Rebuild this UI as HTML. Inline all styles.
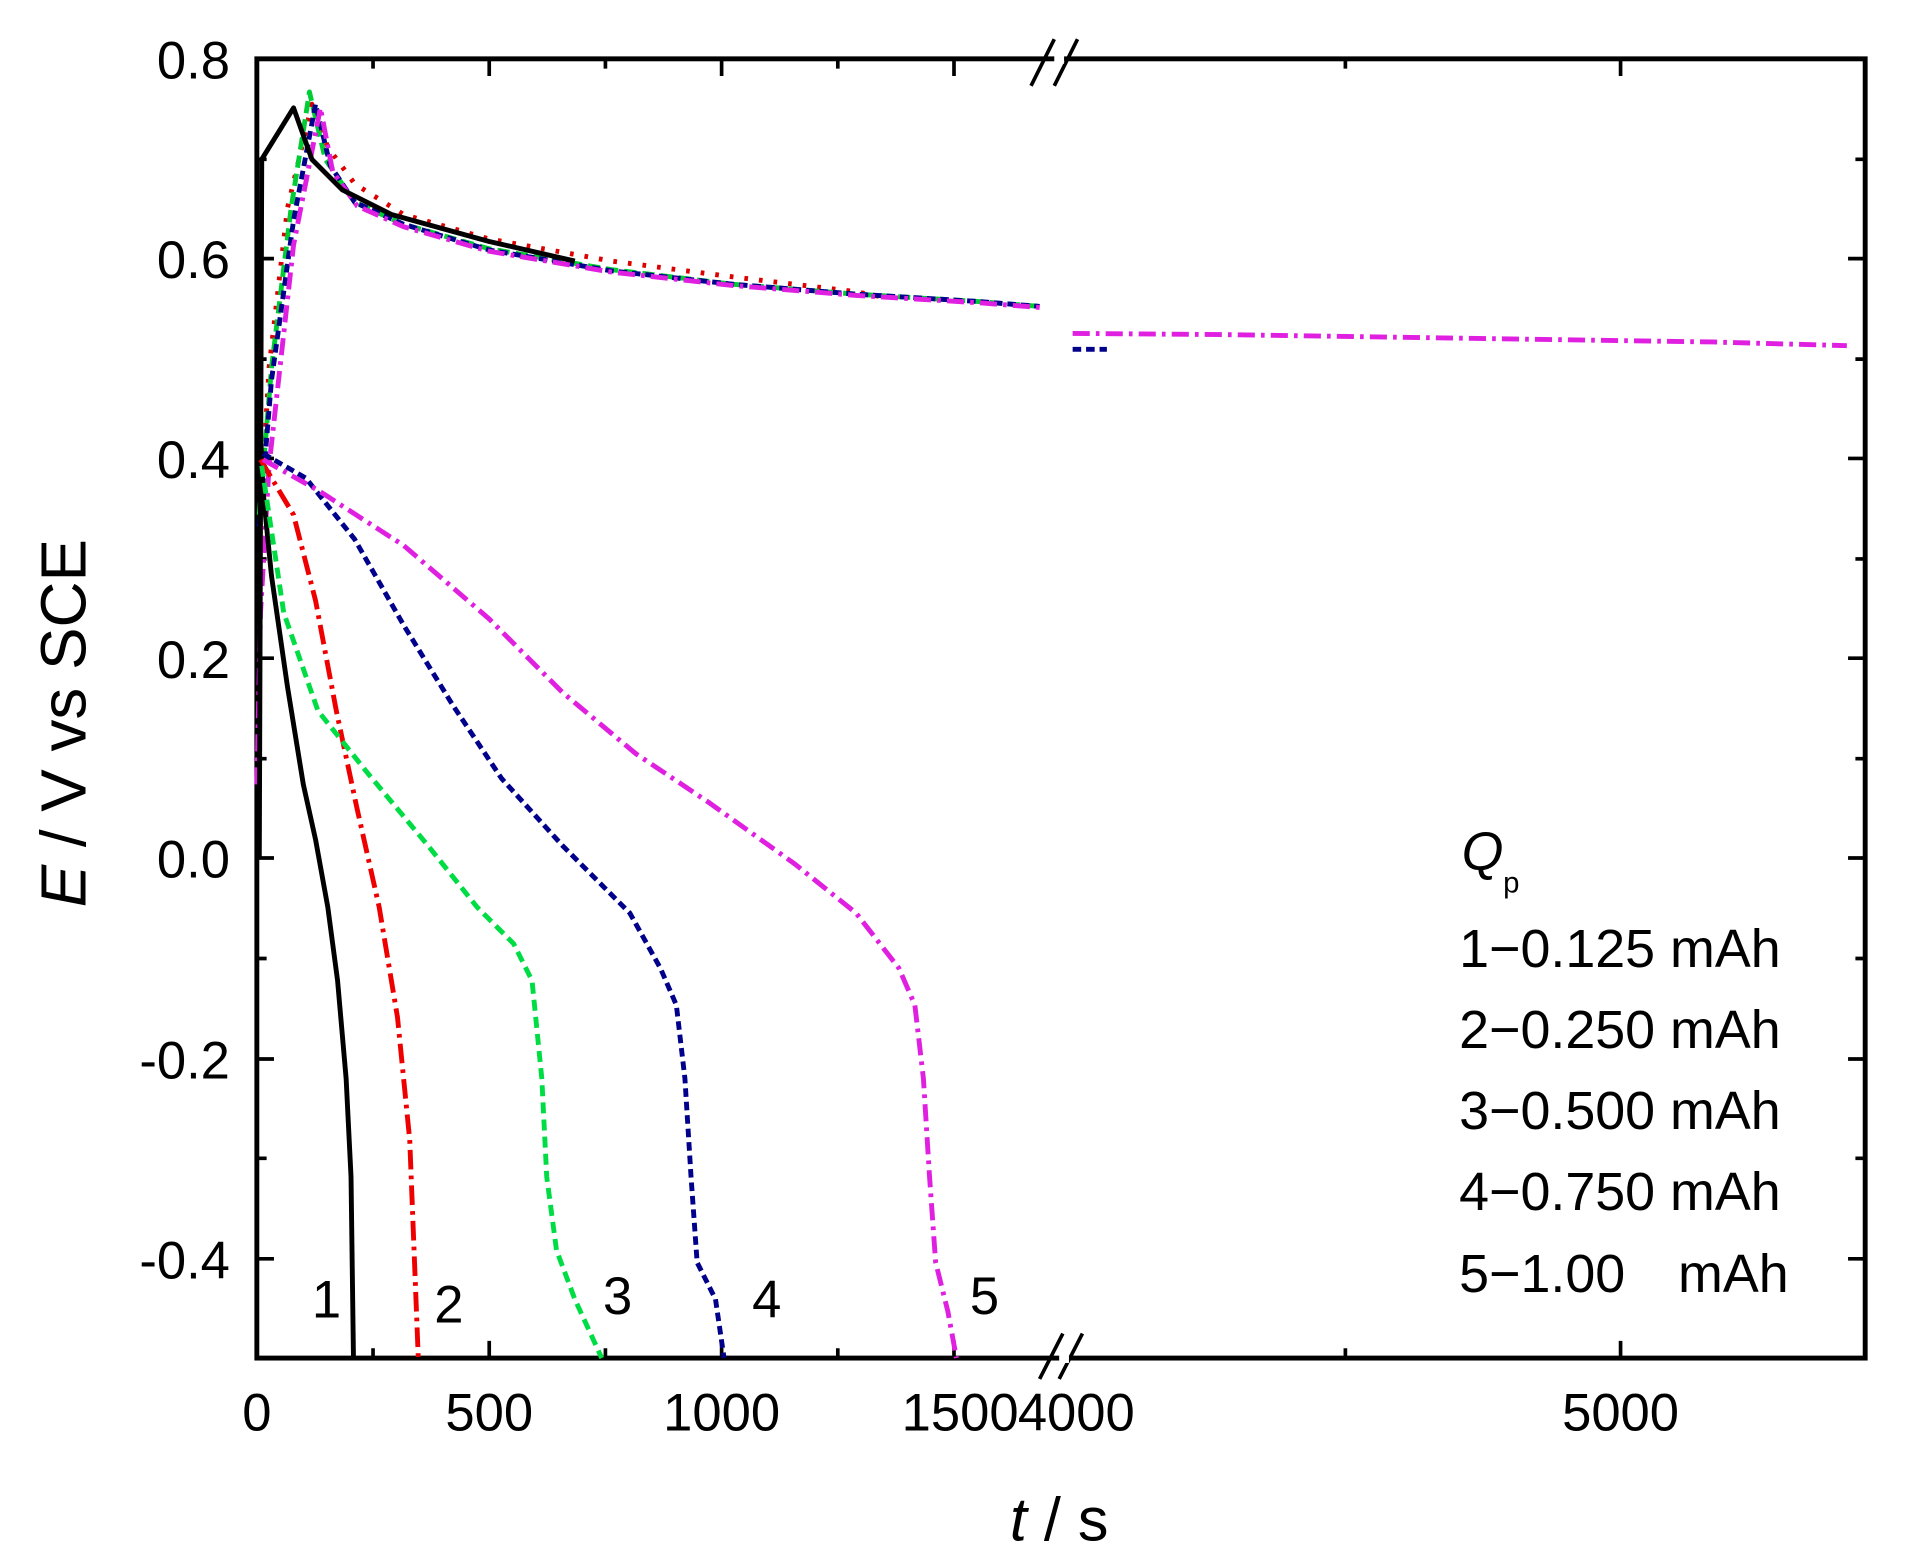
<!DOCTYPE html>
<html><head><meta charset="utf-8"><style>
html,body{margin:0;padding:0;background:#fff;}
svg{display:block;}
text{font-family:"Liberation Sans",Arial,sans-serif;fill:#000;}
</style></head><body>
<svg width="1919" height="1564" viewBox="0 0 1569 1276" preserveAspectRatio="none" xmlns="http://www.w3.org/2000/svg">
<rect x="0" y="0" width="1569" height="1276" fill="#fff"/>
<g stroke="#000" stroke-width="3">
<path d="M210 48h14M210 211h14M210 374h14M210 537h14M210 700h14M210 864h14M210 1027h14"/>
<path d="M1525 48h-14M1525 211h-14M1525 374h-14M1525 537h-14M1525 700h-14M1525 864h-14M1525 1027h-14"/>
<path d="M210 130h8M210 293h8M210 456h8M210 619h8M210 782h8M210 945h8"/>
<path d="M1525 130h-8M1525 293h-8M1525 456h-8M1525 619h-8M1525 782h-8M1525 945h-8"/>
<path d="M400 1108v-14M590 1108v-14M780 1108v-14M1325 1108v-14M305 1108v-8M495 1108v-8M685 1108v-8M1100 1108v-8"/>
<path d="M400 48v14M590 48v14M780 48v14M1325 48v14M305 48v8M495 48v8M685 48v8M1100 48v8"/>
</g>
<rect x="210" y="48" width="1315" height="1060" fill="none" stroke="#000" stroke-width="4"/>
<g stroke="#000" stroke-width="3">
<path d="M843 70L862 32M862 70L881 32"/>
<path d="M850 1125L869 1088M866 1125L885 1088"/>
</g>
<rect x="862" y="44" width="8" height="8" fill="#fff"/>
<rect x="866" y="1104" width="8" height="8" fill="#fff"/>
<g fill="none" stroke-width="4" stroke-linejoin="round">
<path stroke="#d00" stroke-dasharray="3 9" d="M213 420L220 300L235 170L255 85L268 120L290 150L330 175L400 195L500 213L600 226L700 238L720 242"/>
<path stroke="#00cc33" stroke-dasharray="10 5" d="M212 420L222 300L238 170L253 75L266 130L290 165L330 183L400 203L500 220L600 232L700 240L800 246L850 250"/>
<path stroke="#00008b" stroke-dasharray="7 4" d="M212 430L222 310L240 180L258 85L270 135L290 165L330 183L400 204L500 221L600 232L700 240L800 246L850 250"/>
<path stroke="#00008b" stroke-dasharray="7 4" d="M877 285L905 285"/>
<path stroke="#e020e0" stroke-dasharray="14 5 3 5" d="M210 640L213 500L220 380L240 200L262 88L272 140L292 168L330 185L400 205L500 222L600 233L700 241L800 247L852 251"/>
<path stroke="#e020e0" stroke-dasharray="14 5 3 5" d="M877 272L1000 273L1200 276L1400 279L1510 282"/>
<path stroke="#000" d="M212 700L214 130L240 88L255 130L280 155L320 175L400 197L470 213"/>
<path stroke="#000" d="M212 330L215 400L222 470L235 560L248 640L258 685L268 740L276 800L283 880L287 960L289 1108"/>
<path stroke="#e00" stroke-dasharray="16 5 3 5" d="M213 375L240 420L258 490L275 580L292 660L310 740L325 830L335 930L342 1108"/>
<path stroke="#00dd44" stroke-dasharray="9 5" d="M214 380L232 500L260 580L300 630L350 690L390 740L420 770L435 800L443 880L447 960L455 1020L470 1060L492 1108"/>
<path stroke="#00008b" stroke-dasharray="7 4" d="M215 370L250 390L290 440L330 510L370 575L410 635L460 690L515 745L540 790L553 820L560 880L565 960L570 1030L585 1060L592 1108"/>
<path stroke="#e020e0" stroke-dasharray="14 5 3 5" d="M215 375L260 400L330 445L400 505L460 565L520 615L580 655L650 705L700 745L735 790L748 820L755 880L760 960L765 1030L775 1070L782 1108"/>
</g>
<g font-size="43" text-anchor="end">
<text x="188" y="64">0.8</text>
<text x="188" y="227">0.6</text>
<text x="188" y="390">0.4</text>
<text x="188" y="553">0.2</text>
<text x="188" y="716">0.0</text>
<text x="188" y="880">-0.2</text>
<text x="188" y="1043">-0.4</text>
</g>
<g font-size="43" text-anchor="middle">
<text x="210" y="1167">0</text>
<text x="400" y="1167">500</text>
<text x="590" y="1167">1000</text>
<text x="785" y="1167">1500</text>
<text x="880" y="1167">4000</text>
<text x="1325" y="1167">5000</text>
</g>
<g font-size="43">
<text x="255" y="1075">1</text>
<text x="355" y="1079">2</text>
<text x="493" y="1072">3</text>
<text x="615" y="1075">4</text>
<text x="793" y="1072">5</text>
</g>
<text x="866" y="1257" font-size="50" text-anchor="middle"><tspan font-style="italic">t</tspan> / s</text>
<text transform="translate(70 590) rotate(-90)" font-size="52" text-anchor="middle"><tspan font-style="italic">E</tspan> / V vs SCE</text>
<g font-size="44">
<text x="1195" y="710" font-style="italic">Q</text><text x="1229" y="728" font-size="24">p</text>
<text x="1193" y="789">1−0.125 mAh</text>
<text x="1193" y="855">2−0.250 mAh</text>
<text x="1193" y="921">3−0.500 mAh</text>
<text x="1193" y="987">4−0.750 mAh</text>
<text x="1193" y="1054">5−1.00 <tspan x="1372">mAh</tspan></text>
</g>
</svg>
</body></html>
